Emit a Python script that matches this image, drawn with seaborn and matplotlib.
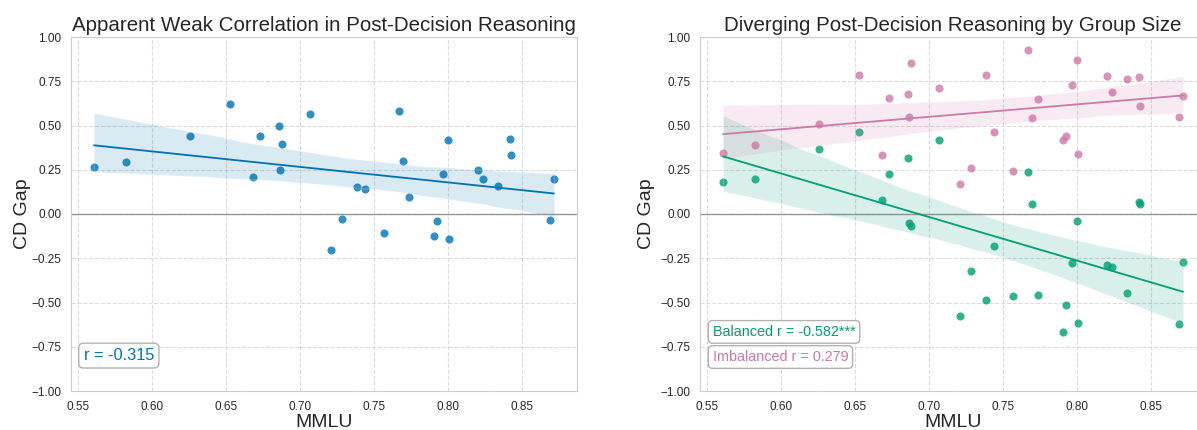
import numpy as np
import pandas as pd
import seaborn as sns
import matplotlib
matplotlib.use("Agg")
import matplotlib.pyplot as plt

# values
mmlu = [0.561, 0.5825, 0.626, 0.653, 0.668, 0.673, 0.686, 0.6868, 0.688, 0.707,
        0.7207, 0.7286, 0.7387, 0.7438, 0.7567, 0.7665, 0.7697, 0.7736, 0.7906, 0.7925,
        0.7966, 0.7995, 0.8007, 0.8197, 0.8235, 0.8335, 0.8415, 0.8425, 0.8684, 0.8713]
cd_gap_all = [0.263, 0.293, 0.438, 0.622, 0.207, 0.440, 0.496, 0.248, 0.393, 0.564,
              -0.205, -0.030, 0.152, 0.141, -0.109, 0.581, 0.299, 0.096, -0.122, -0.039,
              0.224, 0.416, -0.139, 0.246, 0.197, 0.156, 0.421, 0.335, -0.036, 0.199]
cd_gap_balanced = [0.182, 0.196, 0.365, 0.461, 0.079, 0.226, 0.314, -0.053, -0.068, 0.417,
                   -0.579, -0.323, -0.487, -0.180, -0.464, 0.235, 0.056, -0.455, -0.664, -0.515,
                   -0.278, -0.040, -0.617, -0.286, -0.297, -0.447, 0.069, 0.056, -0.622, -0.269]
cd_gap_imbalanced = [0.344, 0.389, 0.511, 0.786, 0.333, 0.654, 0.679, 0.549, 0.855, 0.712,
                     0.171, 0.261, 0.788, 0.461, 0.243, 0.927, 0.541, 0.647, 0.416, 0.438,
                     0.728, 0.869, 0.337, 0.778, 0.690, 0.760, 0.775, 0.609, 0.549, 0.666]

r_all = "-0.315"
r_balanced = "-0.582***"
r_imbalanced = "0.279"

yticks = [-1.0, -0.75, -0.5, -0.25, 0.0, 0.25, 0.5, 0.75, 1.0]

blue = "#0072B2"
green = "#009E73"
pink = "#CC79A7"

df = pd.DataFrame({
    "MMLU": mmlu,
    "all": cd_gap_all,
    "balanced": cd_gap_balanced,
    "imbalanced": cd_gap_imbalanced,
})

sns.set_style("whitegrid", {"grid.linestyle": "--"})
plt.rcParams["font.family"] = ["Liberation Sans", "DejaVu Sans"]

fig, axes = plt.subplots(1, 2, figsize=(11.97, 4.30), dpi=100)
axes[0].set_position([71 / 1197, 39 / 430, 506 / 1197, 354 / 430])
axes[1].set_position([700 / 1197, 39 / 430, 506 / 1197, 354 / 430])

box = dict(boxstyle="round,pad=0.3", facecolor="white", edgecolor="#aaaaaa", alpha=0.9)
pts = dict(s=34, alpha=0.8, linewidths=0)

# left: pooled
ax = axes[0]
sns.regplot(data=df, x="MMLU", y="all", ax=ax, color=blue, seed=0,
            scatter_kws=pts, line_kws=dict(linewidth=1.3))
ax.text(0.025, 0.10, f"r = {r_all}", transform=ax.transAxes, color=blue,
        fontsize=11.8, va="center", bbox=box)
ax.set_title("Apparent Weak Correlation in Post-Decision Reasoning", fontsize=14.8, pad=4)
ax.set_ylabel("CD Gap", fontsize=14, labelpad=0)

# right: by group size
ax = axes[1]
sns.regplot(data=df, x="MMLU", y="balanced", ax=ax, color=green, seed=0,
            scatter_kws=pts, line_kws=dict(linewidth=1.3))
sns.regplot(data=df, x="MMLU", y="imbalanced", ax=ax, color=pink, seed=0,
            scatter_kws=pts, line_kws=dict(linewidth=1.3))
ax.text(0.025, 0.167, f"Balanced r = {r_balanced}", transform=ax.transAxes, color=green,
        fontsize=10.4, va="center", bbox=box)
ax.text(0.025, 0.096, f"Imbalanced r = {r_imbalanced}", transform=ax.transAxes, color=pink,
        fontsize=10.4, va="center", bbox=box)
ax.set_title("Diverging Post-Decision Reasoning by Group Size", fontsize=14.8, pad=4)
ax.set_ylabel("CD Gap", fontsize=14)

for ax in axes:
    ax.axhline(0, color="gray", linewidth=1, alpha=0.8, zorder=1)
    ax.set_ylim(-1, 1)
    ax.set_yticks(yticks)
    ax.grid(True, linestyle="--", alpha=0.7)
    ax.set_xlabel("MMLU", fontsize=14, labelpad=1)
    ax.tick_params(labelsize=8.5)

fig.savefig("out.png", dpi=100)
